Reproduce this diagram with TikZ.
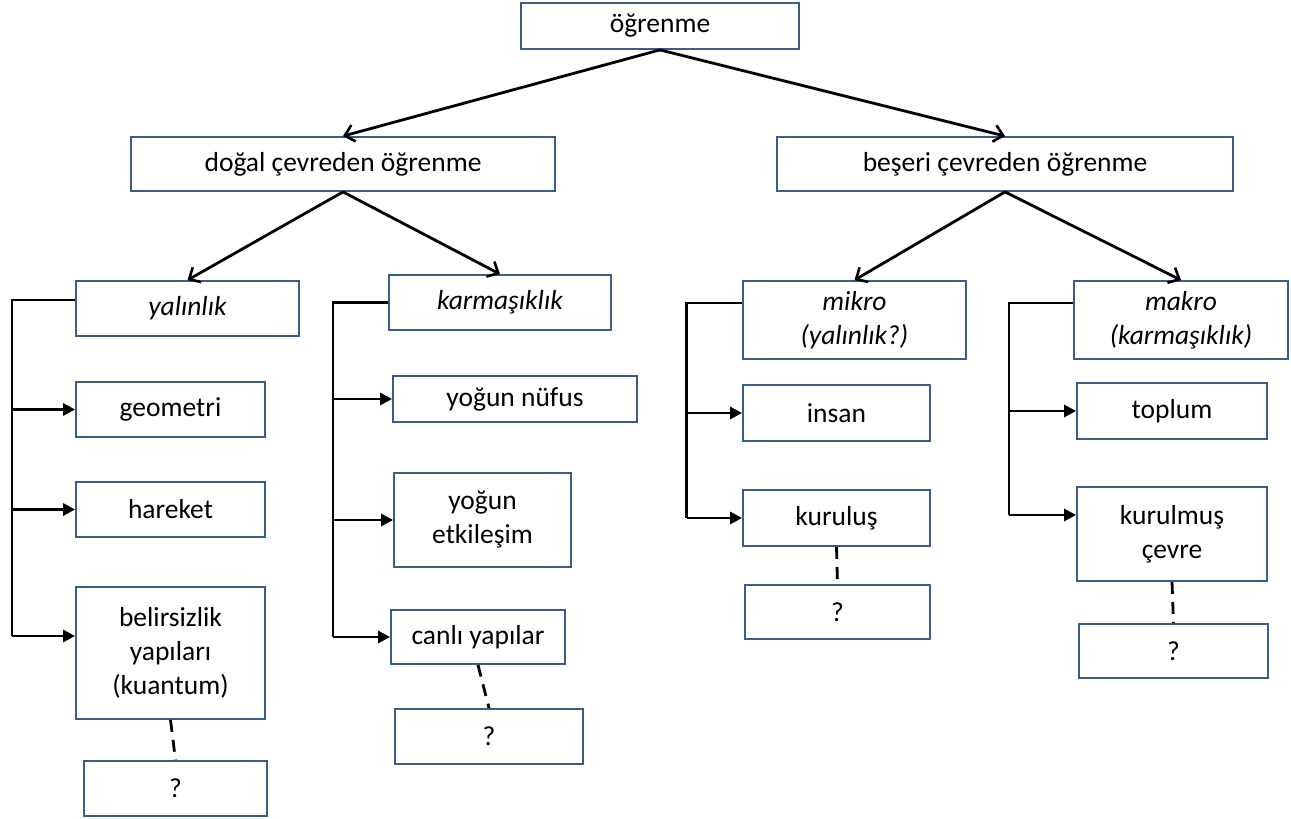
\documentclass[tikz,border=0pt]{standalone}
\usepackage{fontspec}
\setmainfont{Carlito}
\usetikzlibrary{arrows.meta}
\definecolor{boxline}{RGB}{56,93,138}
\tikzset{
  box/.style={draw=boxline, line width=1.8pt, fill=white, inner sep=0pt,
              align=center, font=\fontsize{27.5}{34}\selectfont},
  slanted/.style={font=\fontsize{27.5}{34}\selectfont\itshape},
  tree/.style={line width=2.8pt,
               -{Straight Barb[length=9pt,width=17pt,line width=2.6pt]}},
  spine/.style={line width=2.8pt},
  branch/.style={line width=2.8pt, -{Triangle[length=12pt,width=12pt]}},
  more/.style={line width=2.8pt, dash pattern=on 12pt off 8pt},
}
% \boxnode[options]{name}{left}{top}{right}{bottom}{text}
\newcommand\boxnode[7][]{%
  \node[box,#1,minimum width={(#5-#3)*1pt},minimum height={(#6-#4)*1pt}]
    (#2) at ({(#3+#5)/2},{(#4+#6)/2}) {#7};}
\begin{document}
\begin{tikzpicture}[x=1pt,y=-1pt]
\useasboundingbox (0,0) rectangle (1291,819);

% top levels
\boxnode{root}{521}{3}{799}{49}{öğrenme}
\boxnode{nat}{131}{137}{555}{191}{doğal çevreden öğrenme}
\boxnode{hum}{777}{137}{1233}{191}{beşeri çevreden öğrenme}

% second level
\boxnode[slanted]{yal}{76}{281}{299}{336}{yalınlık}
\boxnode[slanted]{kar}{389}{275}{611}{330}{karmaşıklık}
\boxnode[slanted]{mik}{743}{281}{966}{359}{mikro\\(yalınlık?)}
\boxnode[slanted]{mak}{1074}{281}{1288}{359}{makro\\(karmaşıklık)}

% simplicity column
\boxnode{geo}{76}{382}{265}{437}{geometri}
\boxnode{har}{76}{482}{265}{537}{hareket}
\boxnode{bel}{76}{587}{265}{719}{belirsizlik\\yapıları\\(kuantum)}
\boxnode{q1}{84}{761}{267}{816}{?}

% complexity column
\boxnode{nuf}{393}{376}{637}{422}{yoğun nüfus}
\boxnode{etk}{394}{473}{571}{567}{yoğun\\etkileşim}
\boxnode{can}{391}{610}{565}{664}{canlı yapılar}
\boxnode{q2}{395}{709}{583}{764}{?}

% micro column
\boxnode{ins}{743}{385}{930}{441}{insan}
\boxnode{kur}{743}{490}{930}{546}{kuruluş}
\boxnode{q3}{745}{585}{930}{639}{?}

% macro column
\boxnode{top}{1077}{383}{1267}{439}{toplum}
\boxnode{kcv}{1077}{487}{1267}{581}{kurulmuş\\çevre}
\boxnode{q4}{1079}{624}{1268}{678}{?}

% tree arrows
\draw[tree] (root.south) -- (nat.north);
\draw[tree] (root.south) -- (hum.north);
\draw[tree] (nat.south) -- (yal.north);
\draw[tree] (nat.south) -- (kar.north);
\draw[tree] (hum.south) -- (mik.north);
\draw[tree] (hum.south) -- (mak.north);

% simplicity bracket
\coordinate (aTop) at (12,300);
\coordinate (aBot) at (12,636);
\draw[spine] ([yshift=8.5pt]yal.west) -- (aTop) -- (aBot);
\draw[branch] (aTop |- geo) -- (geo.west);
\draw[branch] (aTop |- har) -- (har.west);
\draw[branch] (aBot) -- ([yshift=17pt]bel.west);

% complexity bracket
\coordinate (bTop) at (333,302.5);
\coordinate (bBot) at (333,637);
\draw[spine] (kar.west) -- (bTop) -- (bBot);
\draw[branch] (bTop |- nuf) -- (nuf.west);
\draw[branch] (bTop |- etk) -- (etk.west);
\draw[branch] (bBot) -- (can.west);

% micro bracket
\coordinate (cTop) at (686.5,303);
\coordinate (cBot) at (686.5,518);
\draw[spine] ([yshift=17pt]mik.west) -- (cTop) -- (cBot);
\draw[branch] (cTop |- ins) -- (ins.west);
\draw[branch] (cBot) -- (kur.west);

% macro bracket
\coordinate (dTop) at (1009,303);
\coordinate (dBot) at (1009,515);
\draw[spine] ([yshift=17pt]mak.west) -- (dTop) -- (dBot);
\draw[branch] (dTop |- top) -- (top.west);
\draw[branch] (dBot) -- ([yshift=19pt]kcv.west);

% open continuations
\draw[more] (bel.south) -- (q1.north);
\draw[more] (can.south) -- (q2.north);
\draw[more] (kur.south) -- (q3.north);
\draw[more] (kcv.south) -- (q4.north);
\end{tikzpicture}
\end{document}
